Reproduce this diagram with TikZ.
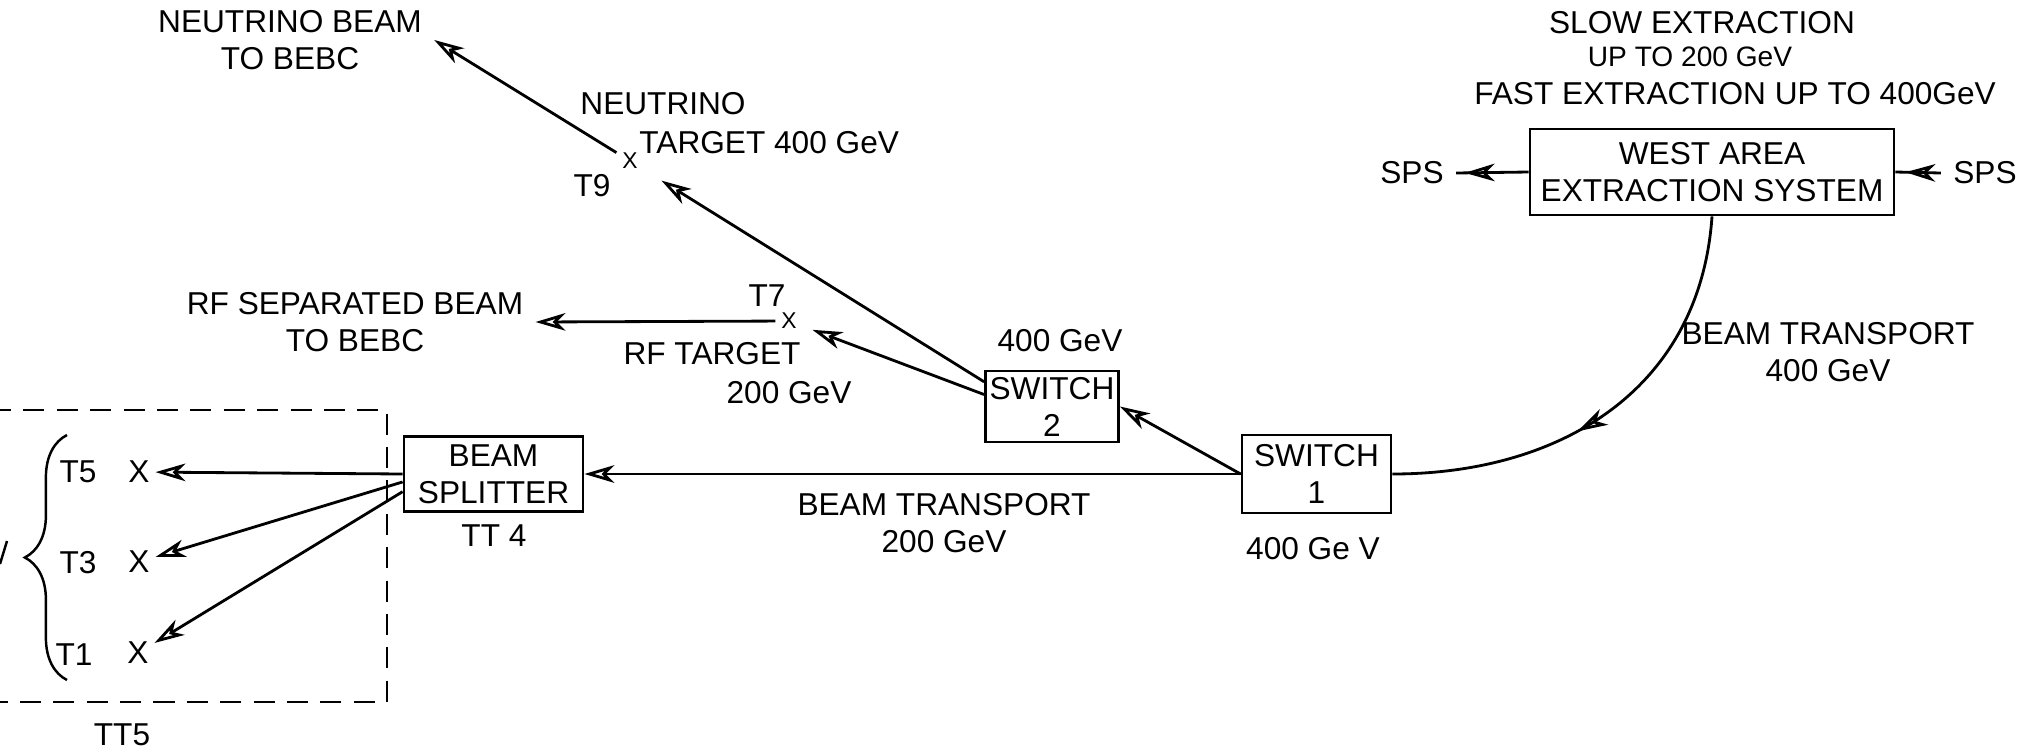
\documentclass[tikz,border=0pt]{standalone}
\usepackage{fontspec}
\setmainfont{Liberation Sans}
\usetikzlibrary{arrows.meta}
\usetikzlibrary{decorations.markings}
\usetikzlibrary{decorations.pathreplacing}
\usetikzlibrary{positioning}

\tikzset{
    beam/.style={line width=0.8pt},
    beamarrow/.style={-{Stealth[open,length=8.5pt,width=5pt,inset=2.5pt]}},
    midarrow/.style={postaction={decorate},
        decoration={markings, mark=at position #1 with {\arrow{Stealth[open,length=8.5pt,width=5pt,inset=2.5pt]}}}},
    box/.style={draw, line width=0.8pt, align=center, inner sep=0pt},
    target/.style={inner sep=1.5pt},
    smallx/.style={font=\fontsize{6.5}{7}\selectfont},
    lbl/.style={align=center}
}

\begin{document}
\begin{tikzpicture}[font=\fontsize{9}{10.5}\selectfont]
        \useasboundingbox (0,0) rectangle (20.38,-7.53);
        % extraction
        \node[box, minimum width=3.64cm, minimum height=0.86cm] (wabox) at (17.12,-1.72) {WEST AREA\\EXTRACTION SYSTEM};
        \node (spsL) at (14.12,-1.73) {SPS};
        \node (spsR) at (19.85,-1.73) {SPS};
        \node (slow) at (17.02,-0.23) {SLOW EXTRACTION};
        \node[font=\fontsize{8}{10}\selectfont] (upto) at (16.90,-0.57) {UP TO 200 GeV};
        \node (fast) at (17.35,-0.94) {FAST EXTRACTION UP TO 400GeV};
        \node[lbl] (bt400) at (18.28,-3.52) {BEAM TRANSPORT\\400 GeV};
        % switches
        \node[box, minimum width=1.33cm, minimum height=0.71cm] (sw2) at (10.52,-4.065) {SWITCH\\2};
        \node[box, minimum width=1.49cm, minimum height=0.78cm] (sw1) at (13.165,-4.74) {SWITCH\\1};
        \node (e400a) at (10.60,-3.41) {400 GeV};
        \node (e400b) at (13.13,-5.49) {400 Ge V};
        \node[box, minimum width=1.79cm, minimum height=0.75cm] (split) at (4.935,-4.74) {BEAM\\SPLITTER};
        \node (tt4) at (4.94,-5.36) {TT 4};
        \node[lbl] (bt200) at (9.44,-5.235) {BEAM TRANSPORT\\200 GeV};
        % T9 neutrino
        \node[target, smallx] (xT9) at (6.30,-1.61) {X};
        \node (t9) at (5.92,-1.86) {T9};
        \node[anchor=west] (nutgt) at (5.68,-1.04) {NEUTRINO};
        \node[anchor=west] (tgt400) at (6.27,-1.43) {TARGET 400 GeV};
        \node[lbl] (nubeam) at (2.90,-0.40) {NEUTRINO BEAM\\TO BEBC};
        % T7 rf
        \node[target, smallx] (xT7) at (7.89,-3.21) {X};
        \node (t7) at (7.67,-2.96) {T7};
        \node[lbl] (rfbeam) at (3.55,-3.22) {RF SEPARATED BEAM\\TO BEBC};
        \node (rftgt) at (7.12,-3.54) {RF TARGET};
        \node (e200) at (7.89,-3.93) {200 GeV};
        % TT5
        \node[target] (xT5) at (1.39,-4.72) {X};
        \node[target] (xT3) at (1.39,-5.62) {X};
        \node[target] (xT1) at (1.38,-6.53) {X};
        \node (t5) at (0.78,-4.72) {T5};
        \node (t3) at (0.78,-5.63) {T3};
        \node (t1) at (0.74,-6.55) {T1};
        \node (tt5) at (1.22,-7.35) {TT5};
        \draw[line width=0.7pt] (0.0,-5.64) -- (0.07,-5.41);
        \draw[beam, dash pattern=on 6pt off 3.5pt] (-0.1,-4.10) -- (3.87,-4.10) -- (3.87,-7.02) -- (-0.1,-7.02);
        \draw[line width=0.7pt, decorate, decoration={brace, amplitude=12pt}] (0.67,-6.80) -- (0.67,-4.35);
        % connectors
        \draw[beam, midarrow=0.88] (wabox.west) -- (spsL.east);
        \draw[beam, midarrow=0.78] (spsR.west) -- (wabox.east);
        \draw[beam, midarrow=0.58] (wabox.south) .. controls (17.00,-3.90) and (15.60,-4.74) .. (sw1.east);
        \draw[beam, beamarrow] (sw1.west) -- (split.east);
        \draw[beam, beamarrow] (sw1.west) -- (sw2.east);
        \draw[beam, beamarrow, shorten >=6pt] (sw2.160) -- (xT9);
        \draw[beam, beamarrow] (xT9) -- (nubeam.east);
        \draw[beam, beamarrow, shorten >=3pt] (sw2.170) -- (xT7);
        \draw[beam, beamarrow] (xT7) -- (rfbeam.east);
        \draw[beam, beamarrow] (split.west) -- (xT5);
        \draw[beam, beamarrow] (split.185) -- (xT3);
        \draw[beam, beamarrow] (split.191) -- (xT1);
\end{tikzpicture}
\end{document}
